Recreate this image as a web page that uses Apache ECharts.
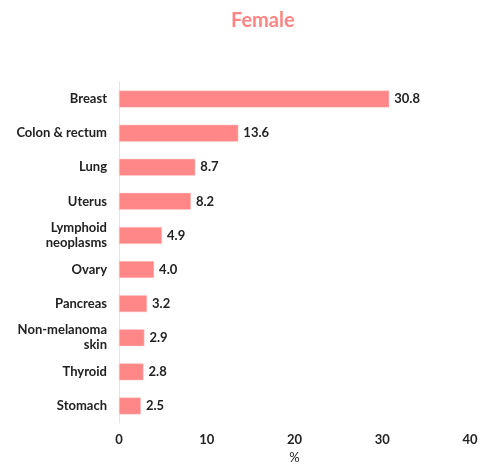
<!DOCTYPE html>
<html lang="en">
<head>
    <meta charset="UTF-8">
    <title>Female</title>
    <script src="https://cdn.jsdelivr.net/npm/echarts@6/dist/echarts.min.js"></script>
    <style>
        body{margin:0;background:#fff;}
    </style>
</head>
<body>
<div id="main" style="width:482px;height:471px"></div>
<script>
    var categories=['Breast','Colon & rectum','Lung','Uterus','Lymphoid\nneoplasms','Ovary','Pancreas','Non-melanoma\nskin','Thyroid','Stomach'];
    var values=[30.8,13.6,8.7,8.2,4.9,4.0,3.2,2.9,2.8,2.5];
    var xTicks=[0,10,20,30,40];

    var myCharts=echarts.init(document.getElementById('main'));
    var font='Lato';
    var option={
        animation:false,
        title:{
            text:'Female',
            left:226,
            top:6,
            textStyle:{color:'#ff8585',fontSize:20,fontWeight:'bold',fontFamily:font}
        },
        grid:{
            left:119,
            right:12,
            top:82,
            bottom:48,
            containLabel:false
        },
        xAxis:{
            type:'value',
            min:xTicks[0],
            max:xTicks[xTicks.length-1],
            interval:10,
            name:'%',
            nameLocation:'middle',
            nameGap:22,
            nameTextStyle:{color:'#222',fontSize:13,fontFamily:font},
            axisLine:{show:false},
            axisTick:{show:false},
            splitLine:{show:false},
            axisLabel:{color:'#222',fontSize:13,fontWeight:'bold',fontFamily:font,margin:10}
        },
        yAxis:{
            type:'category',
            inverse:true,
            data:categories,
            axisLine:{show:true,lineStyle:{color:'#e4e4e4',width:1}},
            axisTick:{show:false},
            axisLabel:{color:'#222',fontSize:13,fontWeight:'bold',fontFamily:font,margin:12,lineHeight:15}
        },
        series:[{
            type:'bar',
            data:values,
            barWidth:17,
            itemStyle:{color:'#ff8787',borderColor:'#ffd0d0',borderWidth:0.5},
            label:{
                show:true,
                position:'right',
                distance:5,
                color:'#222',
                fontSize:13,
                fontWeight:'bold',
                fontFamily:font,
                formatter:function(p){return p.value.toFixed(1);}
            }
        }]
    };
    myCharts.setOption(option);
</script>
</body>
</html>
